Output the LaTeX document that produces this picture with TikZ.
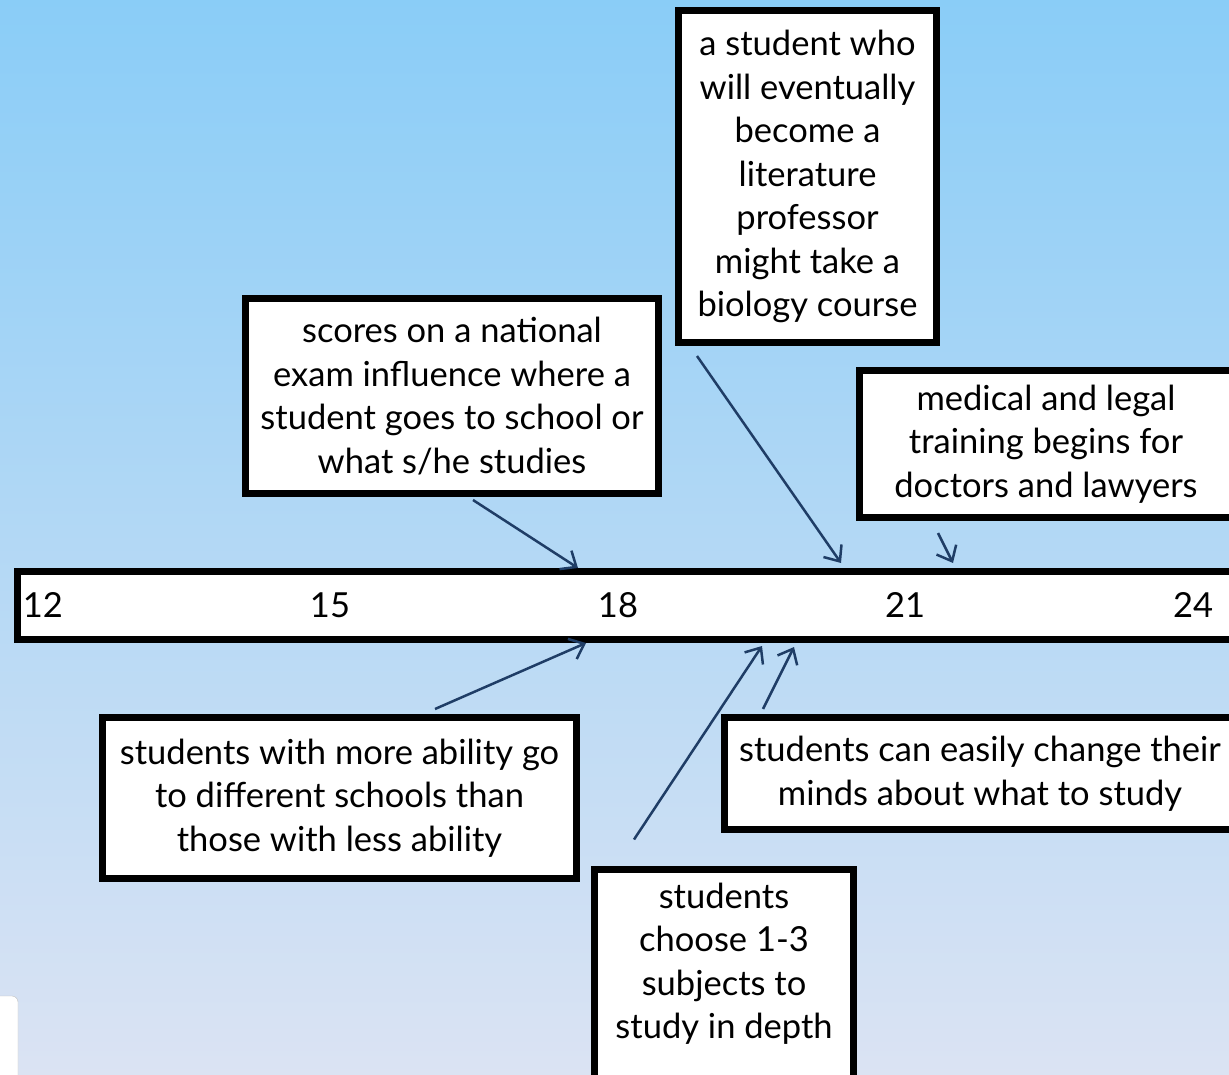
\documentclass[tikz,border=0pt]{standalone}
\usepackage{fontspec}
\setmainfont{Lato}
\usepackage{tikz}
\usetikzlibrary{calc}
\usetikzlibrary{arrows.meta}
\usetikzlibrary{positioning}
\definecolor{skyblue}{RGB}{138, 205, 247}
\definecolor{hazeblue}{RGB}{198, 214, 238}
\definecolor{mistblue}{RGB}{219, 227, 243}
\definecolor{midnight}{RGB}{31, 61, 102}
\tikzset{
  callout/.style={draw=black, fill=white, line width=7pt, align=center, inner sep=0pt},
  timebar/.style={draw=black, fill=white, line width=7pt, inner sep=0pt},
  tick/.style={inner sep=0pt},
  pointer/.style={draw=midnight, line width=2.5pt, -{Straight Barb[length=13pt,width=22pt,line width=2.5pt]}}
}

\begin{document}
\begin{tikzpicture}[x=1pt, y=-1pt, font=\fontsize{34.5}{43.5}\selectfont]
            \clip (0,0) rectangle (1229,1075);
            \shade[top color=skyblue, middle color=hazeblue, bottom color=mistblue] (0,0) rectangle (1229,1075);
            \draw[gray!50, fill=white, rounded corners=6pt] (-30,1100) rectangle (18,996);

            % the age line
            \node[timebar, minimum width=1300pt, minimum height=68pt, anchor=west] (timeline) at (13.5,605.5) {};
            \node[tick] (t12) at (43,605)   {12};
            \node[tick] (t15) at (330,605)  {15};
            \node[tick] (t18) at (618,605)  {18};
            \node[tick] (t21) at (905,605)  {21};
            \node[tick] (t24) at (1193,605) {24};

            % boxes above
            \node[callout, minimum width=413pt, minimum height=195pt] (scores) at (452,396)
                 {scores on a national\\exam influence where a\\student goes to school or\\what s/he studies};
            \node[callout, minimum width=258pt, minimum height=332pt] (professor) at (807.5,176.5)
                 {a student who\\will eventually\\become a\\literature\\professor\\might take a\\biology course};
            \node[callout, minimum width=373pt, minimum height=147pt] (medical) at (1046,444)
                 {medical and legal\\training begins for\\doctors and lawyers};

            % boxes below
            \node[callout, minimum width=474pt, minimum height=161pt] (ability) at (339.5,798)
                 {students with more ability go\\to different schools than\\those with less ability};
            \node[callout, minimum width=511pt, minimum height=112pt] (easily) at (980,773.5)
                 {students can easily change their\\minds about what to study};
            \node[callout, minimum width=259pt, anchor=north, text depth=160pt, inner ysep=14pt] (choose) at (724,865.5)
                 {students\\choose 1-3\\subjects to\\study in depth};

            % pointers
            \draw[pointer] ($(scores.south)+(21,3)$)       -- (578,0 |- timeline.north);
            \draw[pointer] ($(professor.south)+(-110.5,10)$) -- ($(841,0 |- timeline.north)+(0,-5)$);
            \draw[pointer] ($(medical.south)+(-108,12)$)    -- ($(953,0 |- timeline.north)+(0,-5)$);
            \draw[pointer] ($(ability.north)+(95.5,-5)$)    -- (586,0 |- timeline.south);
            \draw[pointer] ($(choose.north)+(-90,-26)$)     -- ($(762,0 |- timeline.south)+(0,3)$);
            \draw[pointer] ($(easily.north)+(-217,-5)$)     -- ($(794,0 |- timeline.south)+(0,4)$);
        \end{tikzpicture}
\end{document}
